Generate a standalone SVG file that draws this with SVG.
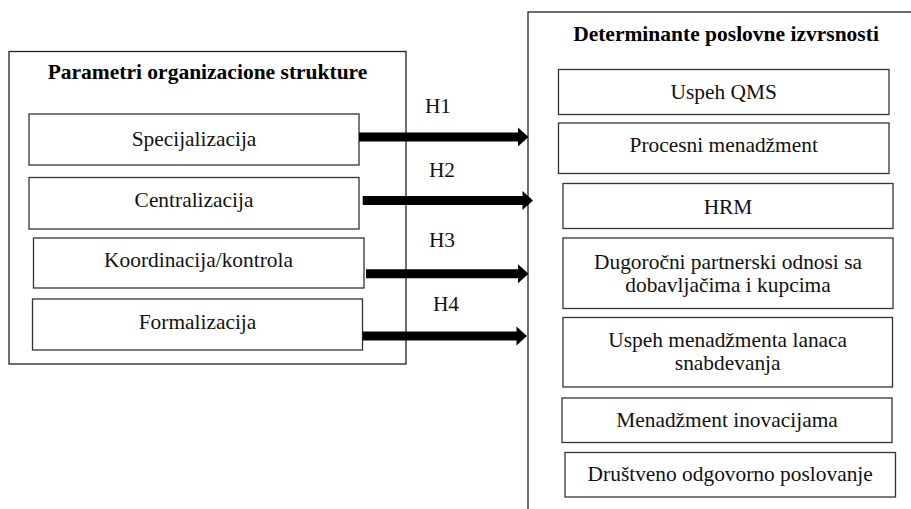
<svg xmlns="http://www.w3.org/2000/svg" width="911" height="509" viewBox="0 0 911 509">
<style>
  .frame { fill: #ffffff; stroke: #222222; stroke-width: 1.3; }
  .box { fill: #ffffff; stroke: #333333; stroke-width: 1.3; }
  text { font-family: 'Liberation Serif', 'Times New Roman', serif; fill: #111111; text-anchor: middle; font-size: 21.4px; }
  .title { font-weight: bold; font-size: 21.5px; fill: #000000; }
  .arrow { fill: #000000; stroke: none; }
</style>
<rect width="911" height="509" fill="#ffffff"/>

<g id="group-left">
  <rect class="frame" x="9" y="51.5" width="397" height="312.5"/>
  <text class="title" x="207.5" y="79">Parametri organizacione strukture</text>
</g>
<g id="group-right">
  <rect class="frame" x="528" y="12" width="420" height="520"/>
  <text class="title" x="726" y="41">Determinante poslovne izvrsnosti</text>
</g>

<g id="node-specijalizacija">
  <rect class="box" x="29" y="114" width="330" height="51"/>
  <text x="194" y="146">Specijalizacija</text>
</g>
<g id="node-centralizacija">
  <rect class="box" x="29" y="177.5" width="330" height="51.5"/>
  <text x="194" y="207">Centralizacija</text>
</g>
<g id="node-koordinacija">
  <rect class="box" x="33.5" y="238" width="330.5" height="50"/>
  <text x="198.5" y="267">Koordinacija/kontrola</text>
</g>
<g id="node-formalizacija">
  <rect class="box" x="32.5" y="299" width="330" height="51"/>
  <text x="197.5" y="328.5">Formalizacija</text>
</g>

<g id="node-qms">
  <rect class="box" x="558.5" y="69.5" width="330.5" height="45"/>
  <text x="723.7" y="99">Uspeh QMS</text>
</g>
<g id="node-procesni">
  <rect class="box" x="558.5" y="123" width="330.5" height="50.5"/>
  <text x="723.7" y="152">Procesni menadžment</text>
</g>
<g id="node-hrm">
  <rect class="box" x="563" y="183.5" width="330" height="45"/>
  <text x="728" y="213.5">HRM</text>
</g>
<g id="node-dugorocni">
  <rect class="box" x="563" y="238" width="330" height="70.5"/>
  <text x="728" y="269">Dugoročni partnerski odnosi sa</text>
  <text x="728" y="292">dobavljačima i kupcima</text>
</g>
<g id="node-lanci">
  <rect class="box" x="563" y="317.5" width="329.5" height="69.5"/>
  <text x="727.7" y="347">Uspeh menadžmenta lanaca</text>
  <text x="727.7" y="370">snabdevanja</text>
</g>
<g id="node-inovacije">
  <rect class="box" x="562" y="398" width="330" height="44.5"/>
  <text x="727" y="427">Menadžment inovacijama</text>
</g>
<g id="node-drustveno">
  <rect class="box" x="565" y="452.5" width="330.5" height="44.5"/>
  <text x="730.2" y="480.5">Društveno odgovorno poslovanje</text>
</g>

<g id="connectors">
  <path class="arrow" d="M359,132.5 H518 V127.5 L528.5,137 L518,146.5 V141.5 H359 Z"/>
  <path class="arrow" d="M362.7,196 H522.5 V191 L533,200.5 L522.5,210 V205 H362.7 Z"/>
  <path class="arrow" d="M366,269.3 H518 V264.3 L528.5,273.8 L518,283.3 V278.3 H366 Z"/>
  <path class="arrow" d="M362.7,331.5 H516.5 V326.5 L527,336 L516.5,345.5 V340.5 H362.7 Z"/>
  <text x="438" y="113">H1</text>
  <text x="442" y="177">H2</text>
  <text x="442" y="247">H3</text>
  <text x="446" y="311">H4</text>
</g>
</svg>
